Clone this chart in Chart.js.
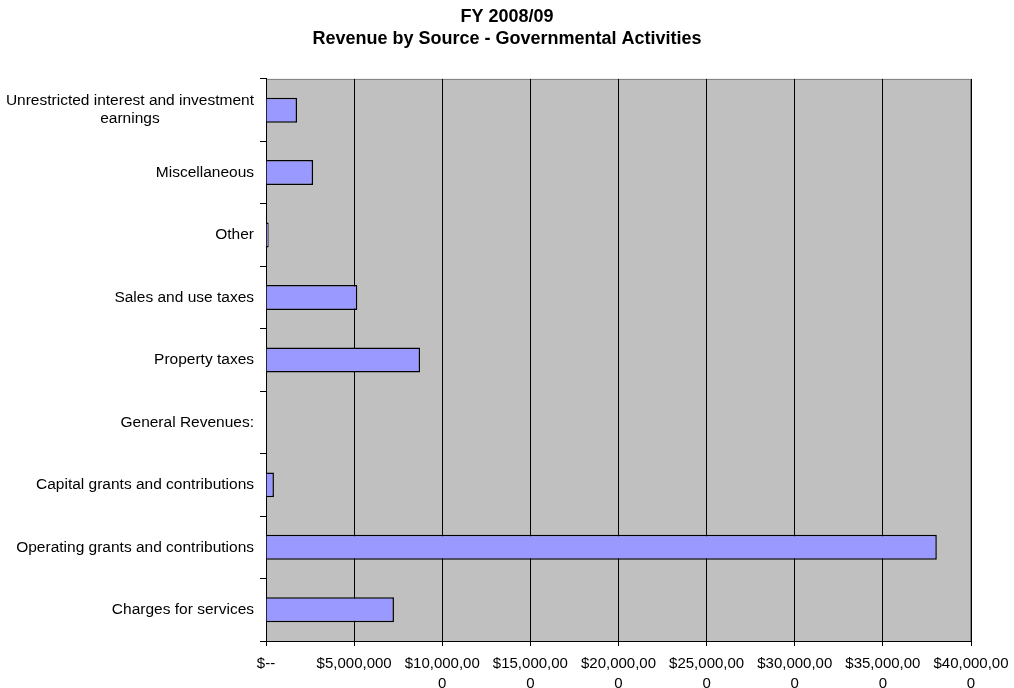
<!DOCTYPE html>
<html>
<head>
<meta charset="utf-8">
<script src="https://cdn.jsdelivr.net/npm/chart.js@4.4.0/dist/chart.umd.min.js"></script>
<style>
  html, body { margin: 0; padding: 0; background: #fff; }
</style>
</head>
<body>
<canvas id="revenueChart" width="1014" height="688"></canvas>
<script>
const categories = [
  'Unrestricted interest and investment\nearnings',
  'Miscellaneous',
  'Other',
  'Sales and use taxes',
  'Property taxes',
  'General Revenues:',
  'Capital grants and contributions',
  'Operating grants and contributions',
  'Charges for services'
];
const revenue = [1760000, 2670000, 150000, 5180000, 8740000, null, 450000, 38060000, 7260000];
const xTickLabels = [
  ['$--'],
  ['$5,000,000'],
  ['$10,000,00', '0'],
  ['$15,000,00', '0'],
  ['$20,000,00', '0'],
  ['$25,000,00', '0'],
  ['$30,000,00', '0'],
  ['$35,000,00', '0'],
  ['$40,000,00', '0']
];

Chart.defaults.font.family = '"Liberation Sans", Arial, sans-serif';
Chart.defaults.font.size = 15;
Chart.defaults.color = '#000';

// grey plot background + thin border
const plotBackground = {
  id: 'plotBackground',
  beforeDraw(chart) {
    const { ctx, chartArea: a } = chart;
    ctx.save();
    ctx.fillStyle = '#C0C0C0';
    ctx.fillRect(a.left, a.top, a.right - a.left, a.bottom - a.top);
    ctx.strokeStyle = '#808080';
    ctx.lineWidth = 1;
    ctx.strokeRect(a.left + 0.5, a.top + 0.5, a.right - a.left - 1, a.bottom - a.top);
    ctx.restore();
  }
};

// category labels: right-aligned block, lines centred within it
const categoryLabels = {
  id: 'categoryLabels',
  afterDraw(chart) {
    const { ctx } = chart;
    const yScale = chart.scales.y;
    const rightEdge = chart.chartArea.left - 12;
    ctx.save();
    ctx.font = '15.5px "Liberation Sans", Arial, sans-serif';
    ctx.fillStyle = '#000';
    ctx.textAlign = 'center';
    ctx.textBaseline = 'middle';
    categories.forEach((label, i) => {
      const lines = label.split('\n');
      const maxW = Math.max(...lines.map(l => ctx.measureText(l).width));
      const cx = rightEdge - maxW / 2;
      const y = yScale.getPixelForValue(i);
      const lh = 18;
      lines.forEach((line, j) => {
        ctx.fillText(line, cx, y + (j - (lines.length - 1) / 2) * lh);
      });
    });
    ctx.restore();
  }
};

new Chart(document.getElementById('revenueChart'), {
  type: 'bar',
  data: {
    labels: categories,
    datasets: [{
      data: revenue,
      backgroundColor: '#9999FF',
      borderColor: '#000',
      borderWidth: 1.5,
      barPercentage: 0.4,
      categoryPercentage: 1
    }]
  },
  options: {
    indexAxis: 'y',
    responsive: false,
    animation: false,
    layout: { padding: { top: 6, right: 43, bottom: 0, left: 43 } },
    plugins: {
      legend: { display: false },
      tooltip: { enabled: false },
      title: {
        display: true,
        text: ['FY 2008/09', 'Revenue by Source - Governmental Activities'],
        font: { size: 18, weight: 'bold', lineHeight: 1.22 },
        padding: { top: 0, bottom: 29 }
      }
    },
    scales: {
      x: {
        min: 0,
        max: 40000000,
        ticks: {
          stepSize: 5000000,
          maxRotation: 0,
          autoSkip: false,
          padding: 8,
          font: { size: 15, lineHeight: 1.33 },
          callback: (value, index) => xTickLabels[index]
        },
        grid: { color: '#000', tickLength: 5, tickColor: '#000' },
        border: { color: '#000' },
        afterFit(scale) {
          scale.height = 47;
          scale.paddingLeft = 0;
          scale.paddingRight = 0;
        }
      },
      y: {
        ticks: { autoSkip: false, color: 'rgba(0,0,0,0)' },
        grid: { drawOnChartArea: false, offset: true, tickLength: 6, color: '#000' },
        border: { color: '#000' },
        afterFit(scale) { scale.width = 223; }
      }
    }
  },
  plugins: [plotBackground, categoryLabels]
});
</script>
</body>
</html>
